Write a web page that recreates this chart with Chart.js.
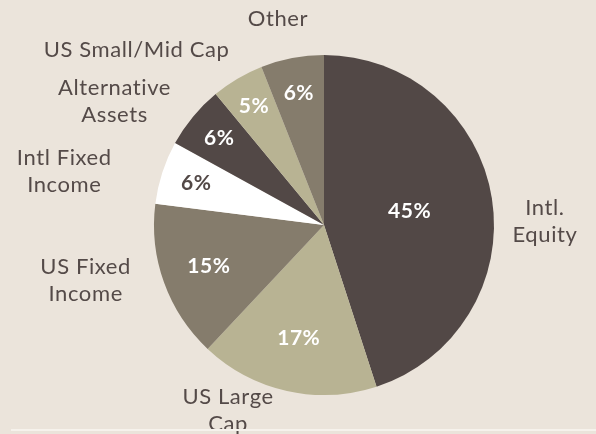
<!DOCTYPE html>
<html>
<head>
<meta charset="utf-8">
<script src="https://cdn.jsdelivr.net/npm/chart.js@4"></script>
<style>
  html, body { margin: 0; padding: 0; background: #ebe4db; }
  #wrap { position: relative; width: 596px; height: 434px; }
  #baseLine { position: absolute; left: 11px; right: 0; top: 429px; height: 2px; background: #f6f2ec; }
</style>
</head>
<body>
<div id="wrap">
  <canvas id="myChart" width="596" height="434"></canvas>
  <div id="baseLine"></div>
</div>
<script>
// data
var categories = [["Intl.", "Equity"], ["US Large", "Cap"], ["US Fixed", "Income"], ["Intl Fixed", "Income"], ["Alternative", "Assets"], ["US Small/Mid Cap"], ["Other"]];
var shares = [45, 17, 15, 6, 6, 5, 6];

// look
var sliceColors = ["#524846", "#b8b393", "#857c6c", "#ffffff", "#524846", "#b8b393", "#857c6c"];
var pctColors = ["#ffffff", "#ffffff", "#ffffff", "#524846", "#ffffff", "#ffffff", "#ffffff"];
// where the inner % sits (fraction of radius)
var pctRadius = [0.51, 0.68, 0.72, 0.79, 0.80, 0.81, 0.79];
// outer label placement: angle shift from slice middle (deg) and radius factor
var labelShift = [8, 14.7, 6.6, -6.3, -9.1, -16.3, -1.8];
var labelRadius = [1.30, 1.23, 1.44, 1.56, 1.43, 1.51, 1.24];

var textColor = "#544a48";
var fontFamily = "Lato, 'Open Sans', sans-serif";

var pieLabels = {
    id: "pieLabels",
    afterDatasetsDraw: function (chart) {
        var ctx = chart.ctx;
        var arcs = chart.getDatasetMeta(0).data;
        ctx.save();
        ctx.textAlign = "center";
        ctx.textBaseline = "middle";
        arcs.forEach(function (arc, i) {
            var mid = (arc.startAngle + arc.endAngle) / 2;
            // percentage inside
            var r = arc.outerRadius * pctRadius[i];
            ctx.font = "bold 21px " + fontFamily;
            ctx.letterSpacing = "0.5px";
            ctx.fillStyle = pctColors[i];
            ctx.fillText(shares[i] + "%", arc.x + Math.cos(mid) * r, arc.y + Math.sin(mid) * r);

            // category outside
            var a = mid + labelShift[i] * Math.PI / 180;
            var lr = arc.outerRadius * labelRadius[i];
            var cx = arc.x + Math.cos(a) * lr;
            var cy = arc.y + Math.sin(a) * lr;
            var lines = categories[i];
            var lh = 27;
            ctx.font = "22px " + fontFamily;
            ctx.letterSpacing = "0.6px";
            ctx.fillStyle = textColor;
            lines.forEach(function (line, j) {
                ctx.fillText(line, cx, cy + (j - (lines.length - 1) / 2) * lh);
            });
        });
        ctx.restore();
    }
};

var ctx = document.getElementById('myChart').getContext('2d');
var chart = new Chart(ctx, {
    type: 'pie',
    data: {
        labels: categories.map(function (c) { return c.join(" "); }),
        datasets: [{
            data: shares,
            backgroundColor: sliceColors,
            borderWidth: 0
        }]
    },
    options: {
        responsive: false,
        animation: false,
        layout: { padding: { left: 154, right: 102, top: 55, bottom: 39 } },
        plugins: {
            legend: { display: false },
            tooltip: { enabled: false }
        }
    },
    plugins: [pieLabels]
});
</script>
</body>
</html>
